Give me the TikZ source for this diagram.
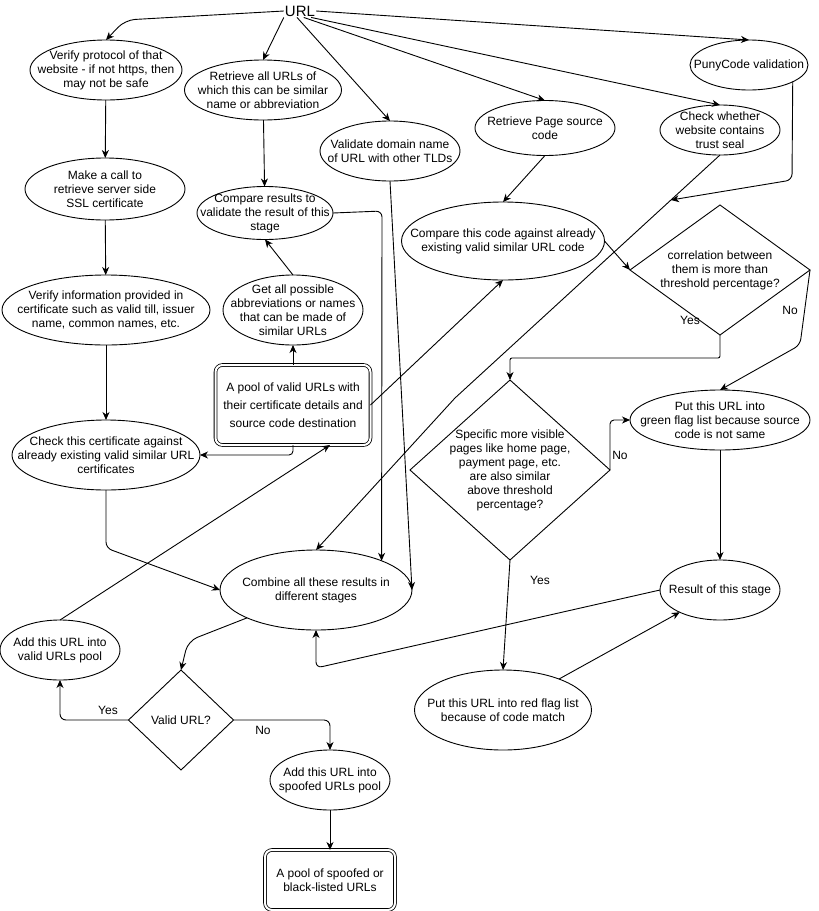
\documentclass[tikz,border=0pt]{standalone}
\usepackage{fontspec}
\setmainfont{Liberation Sans}
\usetikzlibrary{shapes.geometric,arrows.meta}
\begin{document}
\begin{tikzpicture}[x=1pt,y=-1pt,
  every node/.style={font=\fontsize{12}{14}\selectfont, align=center},
  ell/.style={draw, ellipse, inner sep=-30pt, outer sep=0pt, line width=0.9pt},
  dia/.style={draw, diamond, inner sep=-30pt, outer sep=0pt, line width=0.9pt},
  poolbox/.style={draw, rectangle, double, double distance=2pt, rounded corners=7pt, inner sep=-20pt, outer sep=0pt, line width=0.8pt},
  lbl/.style={inner sep=1pt},
  arr/.style={-{Stealth[length=8pt,width=7pt,inset=2.5pt]}, line width=0.9pt, rounded corners=6pt},
  ln/.style={line width=0.9pt, rounded corners=6pt}
]
\useasboundingbox[fill=white] (0,0) rectangle (819,911);

\node[font=\fontsize{15}{18}\selectfont, inner sep=1pt] (url) at (300,11) {URL};

\node[ell, minimum width=152pt, minimum height=60pt] (vp) at (106,70) {Verify protocol of that\\website - if not https, then\\may not be safe};
\node[ell, minimum width=157pt, minimum height=60pt] (ra) at (263,90) {Retrieve all URLs of\\which this can be similar\\name or abbreviation};
\node[ell, minimum width=140pt, minimum height=60pt] (vd) at (390,151) {Validate domain name\\of URL with other TLDs};
\node[ell, minimum width=140pt, minimum height=55pt] (rp) at (545,128) {Retrieve Page source\\code};
\node[ell, minimum width=120pt, minimum height=50pt] (ts) at (720,130) {Check whether\\website contains\\trust seal};
\node[ell, minimum width=118pt, minimum height=50pt] (pc) at (749,65) {PunyCode validation};
\node[ell, minimum width=160pt, minimum height=62pt] (mc) at (105,189) {Make a call to\\retrieve server side\\SSL certificate};
\node[ell, minimum width=136pt, minimum height=53pt] (cr) at (265,213) {Compare results to\\validate the result of this\\stage};
\node[ell, minimum width=203pt, minimum height=78pt] (cc) at (503,241) {Compare this code against already\\existing valid similar URL code};
\node[dia, minimum width=180pt, minimum height=130pt] (d1) at (720,270) {correlation between\\them is more than\\threshold percentage?};
\node[ell, minimum width=208pt, minimum height=70pt] (vi) at (106,310) {Verify information provided in\\certificate such as valid till, issuer\\name, common names, etc.};
\node[ell, minimum width=140pt, minimum height=70pt] (ga) at (293,310) {Get all possible\\abbreviations or names\\that can be made of\\similar URLs};
\node[poolbox, minimum width=155pt, minimum height=80pt, font=\fontsize{12}{18}\selectfont] (pool) at (293,405) {A pool of valid URLs with\\their certificate details and\\source code destination};
\node[ell, minimum width=188pt, minimum height=70pt] (cert) at (106,455) {Check this certificate against\\already existing valid similar URL\\certificates};
\node[dia, minimum width=200pt, minimum height=180pt] (d2) at (510,470) {Specific more visible\\pages like home page,\\payment page, etc.\\are also similar\\above threshold\\percentage?};
\node[ell, minimum width=180pt, minimum height=60pt] (gf) at (720,420) {Put this URL into\\green flag list because source\\code is not same};
\node[ell, minimum width=120pt, minimum height=60pt] (res) at (720,590) {Result of this stage};
\node[ell, minimum width=177pt, minimum height=80pt] (rf) at (503,710) {Put this URL into red flag list\\because of code match};
\node[ell, minimum width=192pt, minimum height=80pt] (comb) at (316,590) {Combine all these results in\\different stages};
\node[ell, minimum width=120pt, minimum height=60pt] (av) at (60,650) {Add this URL into\\valid URLs pool};
\node[dia, minimum width=105pt, minimum height=100pt] (vu) at (181,720) {Valid URL?};
\node[ell, minimum width=120pt, minimum height=60pt] (asp) at (330,780) {Add this URL into\\spoofed URLs pool};
\node[poolbox, minimum width=130pt, minimum height=60pt] (sp) at (330,880) {A pool of spoofed or\\black-listed URLs};

\coordinate (tsbend) at (455,398);
\coordinate (pcend) at (671,200);

% from URL
\draw[arr, rounded corners=10pt] (url.west) -- (125,20) -- (vp.north);
\draw[arr] (url.south west) -- (ra.north);
\draw[arr] (url.-115) -- (vd.north);
\draw[arr] (url.-60) -- (rp.north);
\draw[arr] (url.-30) -- (ts.north);
\draw[arr] (url.east) -- (pc.north);

% left column
\draw[arr] (vp) -- (mc);
\draw[arr] (mc) -- (vi);
\draw[arr] (vi) -- (cert);
\draw[arr] (cert.south) -- (106,548) -- (comb.west);

% middle column
\draw[arr] (ra) -- (cr);
\draw[arr] (ga.north) -- (cr.south);
\draw[arr] (pool.north) -- (ga.south);
\draw[arr, rounded corners=4pt] (pool.south) |- (cert.east);
\draw[arr] (cr.east) -- (382,211) -- (comb.24);
\draw[arr] (vd.south) -- (comb.east);
\draw[arr] (pool.east) -- (cc.south);
\draw[arr] (av.north) -- ([xshift=37pt]pool.south);

% right part
\draw[arr, rounded corners=0pt] (ts.south) -- (tsbend) -- (comb.north);
\draw[arr] (pc.-21.6) -- (792,180) -- (pcend);
\draw[arr] (rp.south) -- (cc.north);
\draw[arr] (cc.east) -- (d1.west);
\draw[arr, rounded corners=2pt] (d1.south) -- (720,358) -| (d2.north);
\draw[arr] (d1.east) -- (800,345) -- (gf.north);
\draw[arr, rounded corners=4pt] (d2.east) -- (610,420) -- (gf.west);
\draw[arr] (d2.south) -- (rf.north);
\draw[arr] (gf) -- (res);
\draw[arr] (rf) -- (res);
\draw[arr] (res.west) -- (316,668) -- (comb.south);

% bottom
\draw[arr, rounded corners=10pt] (comb.202) -- (188,641) -- (vu.north);
\draw[arr] (vu.west) -| (av.south);
\draw[arr] (vu.east) -| (asp.north);
\draw[arr] (asp) -- (sp);

% labels
\node[lbl] (l1) at (690,320) {Yes};
\node[lbl] (l2) at (790,310) {No};
\node[lbl] (l3) at (620,455) {No};
\node[lbl] (l4) at (540,580) {Yes};
\node[lbl] (l5) at (108,710) {Yes};
\node[lbl] (l6) at (263,730) {No};
\end{tikzpicture}
\end{document}
